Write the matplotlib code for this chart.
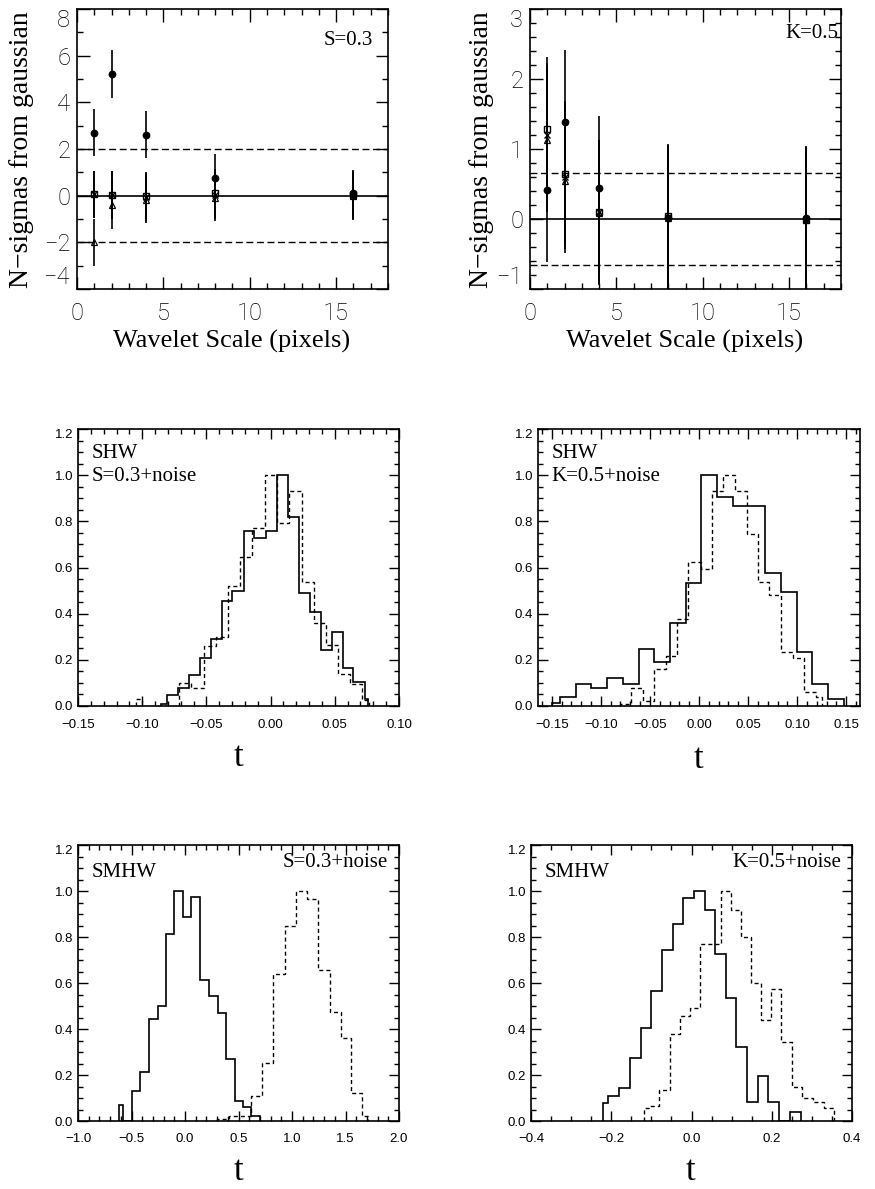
import matplotlib
matplotlib.use("Agg")
import matplotlib.pyplot as plt
from matplotlib.ticker import FixedLocator, MultipleLocator, FuncFormatter

# ---------------- data ----------------
scales = [1, 2, 4, 8, 16]

skew_circle = [2.70, 5.22, 2.62, 0.75, 0.10]
skew_square = [0.05, 0.03, 0.00, 0.13, 0.03]
skew_cross = [0.05, 0.02, -0.05, 0.03, 0.00]
skew_triangle = [-2.00, -0.40, -0.17, -0.08, -0.03]
skew_err = [1.02, 1.02, 1.02, 1.02, 1.02]
skew_band = [2.0, -2.0]

kurt_circle = [0.42, 1.39, 0.44, 0.02, 0.02]
kurt_square = [1.29, 0.65, 0.10, 0.04, -0.01]
kurt_cross = [1.20, 0.60, 0.10, 0.03, 0.00]
kurt_triangle = [1.13, 0.55, 0.09, 0.02, 0.00]
kurt_err = [1.03, 1.03, 1.03, 1.03, 1.03]
kurt_band = [0.66, -0.65]

# SHW, S=0.3+noise
shw_s_solid_edges = [-0.0851, -0.0808, -0.0721, -0.0634, -0.0548, -0.0465, -0.0380,
                     -0.0297, -0.0211, -0.0126, -0.0037, 0.0048, 0.0134, 0.0219,
                     0.0305, 0.0391, 0.0476, 0.0562, 0.0645, 0.0732, 0.0760]
shw_s_solid = [0.01, 0.046, 0.078, 0.136, 0.21, 0.289, 0.454, 0.50, 0.759, 0.729,
               0.759, 1.0, 0.82, 0.488, 0.409, 0.242, 0.319, 0.165, 0.104, 0.03]
shw_s_dash_edges = [-0.1050, -0.1002, -0.0906, -0.0810, -0.0714, -0.0618, -0.0522,
                    -0.0426, -0.0333, -0.0237, -0.0141, -0.0043, 0.0048, 0.0147,
                    0.0245, 0.0339, 0.0432, 0.0528, 0.0619, 0.0715, 0.0763]
shw_s_dash = [0.03, 0.0, 0.0, 0.0, 0.098, 0.08, 0.26, 0.30, 0.52, 0.647, 0.769, 1.0,
              0.794, 0.933, 0.536, 0.36, 0.263, 0.137, 0.097, 0.025]

# SHW, K=0.5+noise
shw_k_solid_edges = [-0.1496, -0.1416, -0.1256, -0.1096, -0.0936, -0.0776, -0.0616,
                     -0.0456, -0.0297, -0.0137, 0.0024, 0.0185, 0.0346, 0.0508,
                     0.0670, 0.0832, 0.0994, 0.1156, 0.1317, 0.1478]
shw_k_solid = [0.012, 0.04, 0.094, 0.08, 0.123, 0.094, 0.245, 0.191, 0.358, 0.532,
               1.0, 0.907, 0.866, 0.866, 0.576, 0.493, 0.232, 0.094, 0.03]
shw_k_dash_edges = [-0.0808, -0.0690, -0.0572, -0.0454, -0.0334, -0.0220, -0.0108,
                    0.0020, 0.0130, 0.0248, 0.0367, 0.0486, 0.0600, 0.0718, 0.0836,
                    0.0958, 0.1072, 0.1190, 0.1250]
shw_k_dash = [0.01, 0.077, 0.02, 0.16, 0.218, 0.376, 0.622, 0.593, 0.93, 1.0, 0.93,
              0.743, 0.537, 0.482, 0.232, 0.21, 0.06, 0.04]

# SMHW, S=0.3+noise
smhw_s_solid_edges = [-0.62, -0.58, -0.50, -0.418, -0.340, -0.256, -0.175, -0.100,
                      -0.020, 0.058, 0.142, 0.226, 0.307, 0.385, 0.463, 0.540,
                      0.618, 0.700]
smhw_s_solid = [0.07, 0.0, 0.13, 0.214, 0.442, 0.50, 0.813, 1.0, 0.886, 0.972,
                0.613, 0.543, 0.471, 0.27, 0.087, 0.061, 0.02]
smhw_s_dash_edges = [0.30, 0.41, 0.514, 0.618, 0.724, 0.827, 0.936, 1.039, 1.144,
                     1.247, 1.356, 1.456, 1.552, 1.658, 1.71]
smhw_s_dash = [0.01, 0.02, 0.02, 0.11, 0.254, 0.638, 0.848, 1.0, 0.965, 0.657,
               0.472, 0.362, 0.12, 0.02]

# SMHW, K=0.5+noise
smhw_k_solid_edges = [-0.221, -0.2075, -0.180, -0.1535, -0.127, -0.1012, -0.0747,
                      -0.0473, -0.0207, 0.0066, 0.0332, 0.0598, 0.0855, 0.112,
                      0.1386, 0.165, 0.1915, 0.219, 0.2456, 0.272]
smhw_k_solid = [0.08, 0.11, 0.142, 0.273, 0.403, 0.565, 0.743, 0.855, 0.968, 1.0,
                0.917, 0.726, 0.533, 0.32, 0.083, 0.196, 0.083, 0.0, 0.04]
smhw_k_dash_edges = [-0.1185, -0.1055, -0.0805, -0.054, -0.029, -0.0042, 0.0224,
                     0.0475, 0.073, 0.0996, 0.1245, 0.149, 0.174, 0.199, 0.224,
                     0.2515, 0.2766, 0.3036, 0.329, 0.354]
smhw_k_dash = [0.055, 0.065, 0.135, 0.378, 0.458, 0.493, 0.77, 0.77, 1.0, 0.917,
               0.80, 0.60, 0.44, 0.573, 0.345, 0.15, 0.102, 0.083, 0.058]

# ticks
scale_xticks = [0, 5, 10, 15]
skew_yticks = [-4, -2, 0, 2, 4, 6, 8]
kurt_yticks = [-1, 0, 1, 2, 3]
hist_yticks = [0.0, 0.2, 0.4, 0.6, 0.8, 1.0, 1.2]
shw_s_xticks = [-0.15, -0.10, -0.05, 0.00, 0.05, 0.10]
shw_k_xticks = [-0.15, -0.10, -0.05, 0.00, 0.05, 0.10, 0.15]
smhw_s_xticks = [-1.0, -0.5, 0.0, 0.5, 1.0, 1.5, 2.0]
smhw_k_xticks = [-0.4, -0.2, 0.0, 0.2, 0.4]

# ---------------- figure ----------------
W, H = 875, 1189
fig = plt.figure(figsize=(W / 100, H / 100), dpi=100)

SERIF = ["Liberation Serif", "DejaVu Serif"]
THIN = ["Roboto", "DejaVu Sans"]
SANS = ["Liberation Sans", "DejaVu Sans"]


def make_axes(x0, x1, y0, y1):
    return fig.add_axes([x0 / W, 1 - y1 / H, (x1 - x0) / W, (y1 - y0) / H])


def fmt(decimals):
    def f(v, pos):
        s = f"{v:.{decimals}f}"
        if s.startswith("-") and float(s) == 0:
            s = s[1:]
        return s.replace("-", "\u2212")
    return FuncFormatter(f)


def style(ax, xticks, yticks, xminor, yminor, xdec, ydec, family, size, weight,
          xpad, ypad, majlen, minlen, nudge_bottom):
    ax.xaxis.set_major_locator(FixedLocator(xticks))
    ax.yaxis.set_major_locator(FixedLocator(yticks))
    ax.xaxis.set_minor_locator(MultipleLocator(xminor))
    ax.yaxis.set_minor_locator(MultipleLocator(yminor))
    ax.xaxis.set_major_formatter(fmt(xdec))
    ax.yaxis.set_major_formatter(fmt(ydec))
    ax.tick_params(which="both", direction="in", top=True, right=True, width=1.0)
    ax.tick_params(which="major", length=majlen)
    ax.tick_params(which="minor", length=minlen)
    ax.tick_params(axis="x", pad=xpad)
    ax.tick_params(axis="y", pad=ypad)
    for s in ax.spines.values():
        s.set_linewidth(1.2)
    for lab in ax.get_xticklabels() + ax.get_yticklabels():
        lab.set_fontfamily(family)
        lab.set_fontsize(size)
        lab.set_fontweight(weight)
    yt = ax.yaxis.get_major_ticks()
    yt[-1].label1.set_va("top")
    if nudge_bottom:
        yt[0].label1.set_va("bottom")


def scale_panel(ax, circ, sq, cr, tri, err, band, ylim, yticks, yminor, tag, tagpos):
    for ser in (circ, sq, cr, tri):
        ax.errorbar(scales, ser, yerr=err, fmt="none", ecolor="k", elinewidth=1.2,
                    capsize=0, zorder=2)
    ax.axhline(0, color="k", lw=1.2, zorder=1)
    for b in band:
        ax.axhline(b, color="k", lw=1.0, ls=(0, (5, 2.6)), zorder=1)
    ax.plot(scales, circ, "o", color="k", ms=4.6, zorder=3)
    ax.plot(scales, sq, "s", mfc="none", mec="k", mew=1.0, ms=4.6, zorder=3)
    ax.plot(scales, cr, "x", color="k", mew=1.0, ms=4.0, zorder=3)
    ax.plot(scales, tri, "^", mfc="none", mec="k", mew=0.9, ms=4.6, zorder=3)
    ax.set_xlim(0, 18)
    ax.set_ylim(*ylim)
    style(ax, scale_xticks, yticks, 1, yminor, 0, 0, THIN, 17, "light",
          9, 5, 9, 4.5, True)
    ax.text(tagpos[0], tagpos[1], tag, transform=ax.transAxes, ha="right",
            va="center", fontsize=15, family=SERIF)


def hist_panel(ax, se, sv, de, dv, xlim, xticks, xminor, xdec, label1, label2,
               bottom_style):
    ax.stairs(sv, se, color="k", lw=1.2, baseline=0)
    ax.stairs(dv, de, color="k", lw=1.0, ls=(0, (2.9, 2.2)), baseline=0)
    ax.set_xlim(*xlim)
    ax.set_ylim(0, 1.2)
    style(ax, xticks, hist_yticks, xminor, 0.05, xdec, 1, SANS, 9.5, "normal",
          9, 3.5, 7, 3.5, False)
    if not bottom_style:
        ax.text(0.041, 0.913, label1, transform=ax.transAxes, ha="left",
                va="center", fontsize=15, family=SERIF)
        ax.text(0.041, 0.827, label2, transform=ax.transAxes, ha="left",
                va="center", fontsize=15, family=SERIF)
    else:
        ax.text(0.041, 0.902, label1, transform=ax.transAxes, ha="left",
                va="center", fontsize=15, family=SERIF)
        ax.text(0.965, 0.935, label2, transform=ax.transAxes, ha="right",
                va="center", fontsize=15, family=SERIF)


# top row
ax1 = make_axes(77, 388, 9, 289)
scale_panel(ax1, skew_circle, skew_square, skew_cross, skew_triangle, skew_err,
            skew_band, (-4, 8), skew_yticks, 1, "S=0.3", (0.952, 0.889))
ax2 = make_axes(530, 841, 9, 289)
scale_panel(ax2, kurt_circle, kurt_square, kurt_cross, kurt_triangle, kurt_err,
            kurt_band, (-1, 3), kurt_yticks, 0.2, "K=0.5", (0.990, 0.914))

for cx, lx in ((232, 22), (685, 482)):
    fig.text(lx / W, 1 - 150 / H, "N\u2212sigmas from gaussian", rotation=90,
             ha="center", va="center", fontsize=20, family=SERIF)
    fig.text(cx / W, 1 - 341 / H, "Wavelet Scale (pixels)", ha="center",
             va="center", fontsize=19, family=SERIF)

# middle row
ax3 = make_axes(78, 399, 429, 706)
hist_panel(ax3, shw_s_solid_edges, shw_s_solid, shw_s_dash_edges, shw_s_dash,
           (-0.15, 0.10), shw_s_xticks, 0.01, 2, "SHW", "S=0.3+noise", False)
ax4 = make_axes(538, 860, 429, 706)
hist_panel(ax4, shw_k_solid_edges, shw_k_solid, shw_k_dash_edges, shw_k_dash,
           (-0.164, 0.164), shw_k_xticks, 0.01, 2, "SHW", "K=0.5+noise", False)

# bottom row
ax5 = make_axes(78, 399, 845, 1121)
hist_panel(ax5, smhw_s_solid_edges, smhw_s_solid, smhw_s_dash_edges, smhw_s_dash,
           (-1.0, 2.0), smhw_s_xticks, 0.1, 1, "SMHW", "S=0.3+noise", True)
ax6 = make_axes(531, 852, 845, 1121)
hist_panel(ax6, smhw_k_solid_edges, smhw_k_solid, smhw_k_dash_edges, smhw_k_dash,
           (-0.4, 0.4), smhw_k_xticks, 0.05, 1, "SMHW", "K=0.5+noise", True)

for cx, cy in ((238, 757), (699, 760), (238, 1172), (691, 1172)):
    fig.text(cx / W, 1 - cy / H, "t", ha="center", va="center", fontsize=25,
             family=SERIF)

fig.savefig("out.png", dpi=100)
